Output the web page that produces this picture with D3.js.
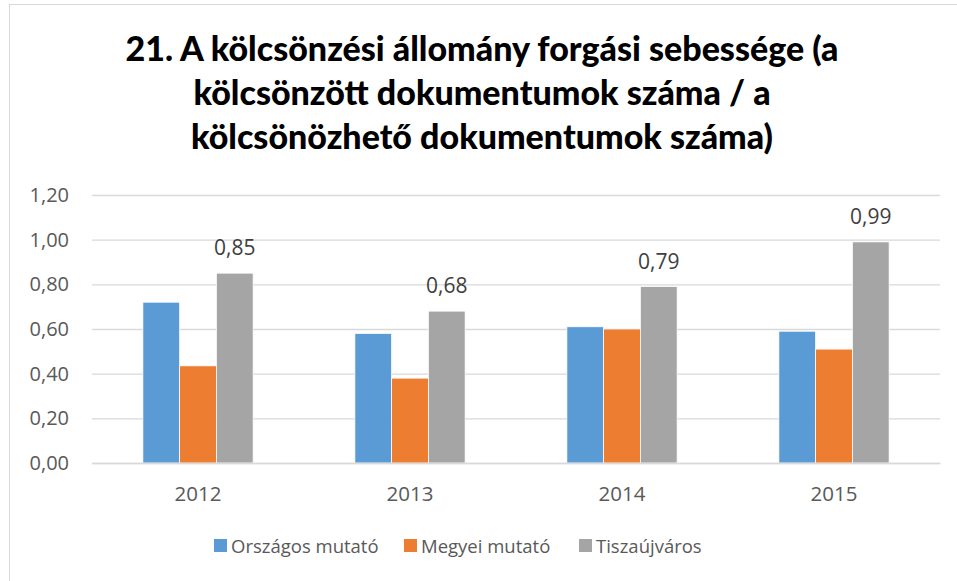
<!DOCTYPE html>
<html>
<head>
<meta charset="utf-8">
<script src="https://cdn.jsdelivr.net/npm/d3@7"></script>
<style>
  html, body { margin: 0; padding: 0; background: #fff; overflow: hidden; }
  svg { display: block; }
</style>
</head>
<body>
<svg id="chart" width="957" height="581"></svg>
<script>
const titleLines = [
  "21. A kölcsönzési állomány forgási sebessége (a",
  "kölcsönzött dokumentumok száma / a",
  "kölcsönözhető dokumentumok száma)"
];
const years = ["2012", "2013", "2014", "2015"];
const seriesNames = ["Országos mutató", "Megyei mutató", "Tiszaújváros"];
const orszagos = [0.72, 0.58, 0.61, 0.59];
const megyei = [0.435, 0.38, 0.60, 0.51];
const tiszaujvaros = [0.85, 0.68, 0.79, 0.99];
const yTicks = [0, 0.2, 0.4, 0.6, 0.8, 1.0, 1.2];
const colors = ["#5b9bd5", "#ed7d31", "#a5a5a5"];
const labeledSeries = [false, false, true];

const seriesValues = [orszagos, megyei, tiszaujvaros];
const svg = d3.select("#chart");

// chart border (right/bottom edges lie outside the view)
svg.append("rect")
  .attr("x", 9.5).attr("y", 4.5)
  .attr("width", 1000).attr("height", 1000)
  .attr("fill", "#fff").attr("stroke", "#d9d9d9").attr("stroke-width", 1);

// title
const titleFont = "Lato, 'Open Sans', sans-serif";
const tY = [61, 105, 149];
titleLines.forEach((t, i) => {
  svg.append("text")
    .attr("x", 482).attr("y", tY[i])
    .attr("text-anchor", "middle")
    .attr("font-family", titleFont)
    .attr("font-weight", 900)
    .attr("font-size", 34)
    .attr("fill", "#000")
    .text(t);
});

const plot = { left: 92, right: 940, top: 195, bottom: 463 };
const y = d3.scaleLinear().domain([0, 1.2]).range([plot.bottom, plot.top]);
const x0 = d3.scaleBand().domain(years).range([plot.left, plot.right])
  .paddingInner(0.48).paddingOuter(0.24);
const x1 = d3.scaleBand().domain(seriesNames).range([0, x0.bandwidth()]);

const fmt = v => d3.format(".2f")(v).replace(".", ",");
const font = "'Open Sans', 'Noto Sans', sans-serif";

// gridlines
const yAxis = d3.axisLeft(y).tickValues(yTicks).tickSize(-(plot.right - plot.left)).tickFormat(fmt).tickPadding(23);
const gy = svg.append("g").attr("transform", `translate(${plot.left},0)`).call(yAxis);
gy.select(".domain").remove();
gy.selectAll(".tick line").attr("stroke", "#d9d9d9").attr("stroke-width", 1.3);
gy.selectAll(".tick text")
  .attr("font-family", font).attr("font-size", 20).attr("fill", "#595959");

// bars
const groups = svg.append("g").selectAll("g").data(years).join("g")
  .attr("transform", d => `translate(${x0(d)},0)`);
seriesNames.forEach((s, si) => {
  groups.append("rect")
    .attr("x", x1(s))
    .attr("y", (d, i) => y(seriesValues[si][i]))
    .attr("width", x1.bandwidth())
    .attr("height", (d, i) => y(0) - y(seriesValues[si][i]))
    .attr("fill", colors[si])
    .attr("stroke", "#fff").attr("stroke-width", 0.75);
  if (labeledSeries[si]) {
    groups.append("text")
      .attr("x", x1(s) + x1.bandwidth() / 2)
      .attr("y", (d, i) => y(seriesValues[si][i]) - 18)
      .attr("text-anchor", "middle")
      .attr("font-family", font).attr("font-size", 21).attr("fill", "#404040")
      .text((d, i) => fmt(seriesValues[si][i]));
  }
});

// x axis
const xAxis = d3.axisBottom(x0).tickSize(0).tickPadding(23);
const gx = svg.append("g").attr("transform", `translate(0,${plot.bottom})`).call(xAxis);
gx.select(".domain").attr("stroke", "#d9d9d9").attr("stroke-width", 1.3);
gx.selectAll(".tick text")
  .attr("font-family", font).attr("font-size", 20.5).attr("fill", "#595959");

// legend
const legendX = [214, 404, 579];
const leg = svg.append("g");
seriesNames.forEach((s, i) => {
  leg.append("rect").attr("x", legendX[i]).attr("y", 539).attr("width", 13).attr("height", 13).attr("fill", colors[i]);
  leg.append("text").attr("x", legendX[i] + 17).attr("y", 553)
    .attr("font-family", font).attr("font-size", 18.5).attr("fill", "#595959").text(s);
});
</script>
</body>
</html>
